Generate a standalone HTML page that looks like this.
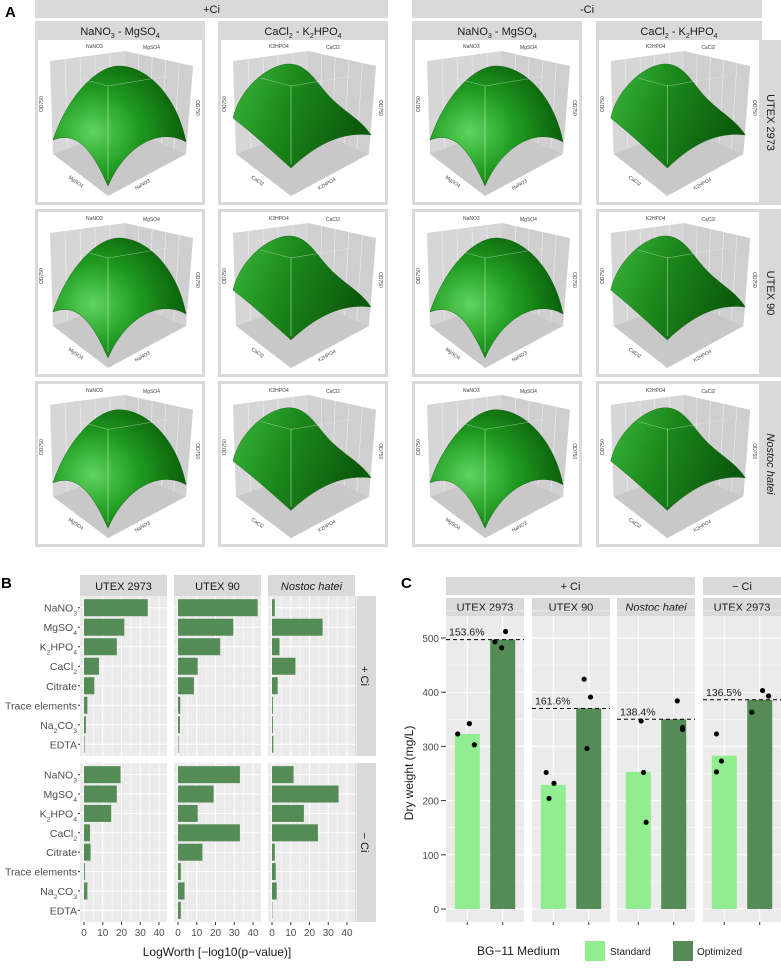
<!DOCTYPE html>
<html><head><meta charset="utf-8"><style>
body{margin:0;background:#fff;}
svg{display:block;font-family:"Liberation Sans",sans-serif;}
</style></head><body>
<svg id="fig" width="781" height="969" viewBox="0 0 781 969" xmlns="http://www.w3.org/2000/svg">
<defs>
<radialGradient id="gA" cx="0.3" cy="0.55" r="0.7"><stop offset="0" stop-color="#5fd45f"/><stop offset="0.5" stop-color="#1f9a1f"/><stop offset="1" stop-color="#0b5e0b"/></radialGradient>
<linearGradient id="gB" x1="0" y1="0" x2="1" y2="0.3"><stop offset="0" stop-color="#3cb83c"/><stop offset="0.45" stop-color="#1c8a1c"/><stop offset="1" stop-color="#0c5a0c"/></linearGradient>
</defs>
<g id="panelA"></g>
<g id="panelB"></g>
<g id="panelC"></g>
</svg>
<script>
const NS="http://www.w3.org/2000/svg";
function mk(parent,tag,attrs,text){const e=document.createElementNS(NS,tag);for(const k in attrs)e.setAttribute(k,attrs[k]);if(text!==undefined)e.textContent=text;parent.appendChild(e);return e;}

/* ---------- Panel A ---------- */
const A=document.getElementById('panelA');
let t=mk(A,'text',{x:5,y:17,'font-size':15,'font-weight':'bold'},'A');


const aCols=[[35,205],[218,388],[412,582],[596,762]];
const aRows=[[21,205],[209,377],[381,547]];
const aColTitles=[['NaNO','3',' - MgSO','4'],['CaCl','2',' - K','2','HPO','4'],['NaNO','3',' - MgSO','4'],['CaCl','2',' - K','2','HPO','4']];
const aRowTitles=['UTEX 2973','UTEX 90','Nostoc hatei'];
[['+Ci',35,388],['-Ci',412,762]].forEach(([lab,x0,x1])=>{
  const r=mk(A,'rect',{x:x0,y:0,width:x1-x0,height:18,fill:'#d9d9d9'});
  
  
  mk(A,'text',{x:(x0+x1)/2,y:13,'font-size':11,'text-anchor':'middle',fill:'#1a1a1a'},lab);
});
aRows.forEach((row,ri)=>{
  const s=mk(A,'rect',{x:762,y:row[0]+(ri==0?19:0),width:19,height:row[1]-row[0]-(ri==0?19:0),fill:'#d9d9d9'});
  
  
  const cy=(row[0]+(ri==0?19:0)+row[1])/2;
  mk(A,'text',{x:771,y:cy,'font-size':11,'text-anchor':'middle','font-style':ri==2?'italic':'normal',transform:`rotate(90 771 ${cy})`,dy:4,fill:'#1a1a1a'},aRowTitles[ri]);
  aCols.forEach((col,ci)=>{
    const g=mk(A,'g',{});
    
    
    mk(g,'rect',{x:col[0],y:row[0],width:col[1]-col[0],height:row[1]-row[0],fill:'#d9d9d9'});
    let top=row[0]+3;
    if(ri==0){
      const tt=mk(g,'text',{x:(col[0]+col[1])/2,y:row[0]+14,'font-size':11,'text-anchor':'middle',fill:'#1a1a1a'});
      aColTitles[ci].forEach((p,i)=>{const ts=mk(tt,'tspan',{},p); if(/^\d$/.test(p)){ts.setAttribute('font-size',7);ts.setAttribute('dy',3);} else if(i>0 && /^\d$/.test(aColTitles[ci][i-1])) ts.setAttribute('dy',-3);});
      top=row[0]+19;
    }
    const wx=col[0]+3, wy=top, ww=col[1]-col[0]-6, wh=row[1]-3-top;
    mk(g,'rect',{x:wx,y:wy,width:ww,height:wh,fill:'#fff'});
    const sx=ww/164, sy=wh/162;
    const P=(x,y)=>`${(wx+x*sx).toFixed(1)},${(wy+y*sy).toFixed(1)}`;
    mk(g,'polygon',{points:[P(12,21),P(87,11),P(87,87),P(15,114)].join(' '),fill:'#d6d6d6'});
    mk(g,'polygon',{points:[P(87,11),P(155,26),P(148,114),P(87,87)].join(' '),fill:'#cfcfcf'});
    mk(g,'polygon',{points:[P(15,114),P(87,87),P(148,114),P(70,156)].join(' '),fill:'#c8c8c8'});
    for(let k=1;k<5;k++){
      mk(g,'line',{x1:wx+(12+k*15)*sx,y1:wy+(21-k*2)*sy,x2:wx+(15+k*14.4)*sx,y2:wy+(114-k*5.4)*sy,stroke:'#eee','stroke-width':0.6});
      mk(g,'line',{x1:wx+(87+k*13.6)*sx,y1:wy+(11+k*3)*sy,x2:wx+(87+k*12.2)*sx,y2:wy+(87+k*5.4)*sy,stroke:'#eee','stroke-width':0.6});
    }
    let d;
    if(ci%2==0) d=`M${P(15,100)} C${P(30,55)} ${P(60,25)} ${P(82,26)} C${P(112,27)} ${P(140,60)} ${P(148,102)} C${P(120,86)} ${P(86,108)} ${P(70,146)} C${P(55,112)} ${P(40,90)} ${P(15,100)} Z`;
    else d=`M${P(12,78)} C${P(20,45)} ${P(50,24)} ${P(68,24)} C${P(88,24)} ${P(96,45)} ${P(112,60)} C${P(128,75)} ${P(140,80)} ${P(150,95)} C${P(125,92)} ${P(100,100)} ${P(70,128)} C${P(50,110)} ${P(30,92)} ${P(12,78)} Z`;
    mk(g,'path',{d:d,fill:ci%2==0?'url(#gA)':'url(#gB)',stroke:'#0c5a0c','stroke-width':0.4});
    mk(g,'line',{x1:wx+70*sx,y1:wy+(ci%2==0?46:45)*sy,x2:wx+70*sx,y2:wy+(ci%2==0?140:124)*sy,stroke:'#e8f5e8','stroke-width':0.6,opacity:0.7});
    mk(g,'polyline',{points:[P(40,38),P(70,46),P(130,36)].join(' '),fill:'none',stroke:'#e8f5e8','stroke-width':0.5,opacity:0.6});
    const lb=ci%2==0?['NaNO3','MgSO4']:['K2HPO4','CaCl2'];
    mk(g,'text',{x:wx+48*sx,y:wy+8*sy,'font-size':5,fill:'#444'},lb[0]);
    mk(g,'text',{x:wx+105*sx,y:wy+9*sy,'font-size':5,fill:'#444'},lb[1]);
    mk(g,'text',{x:wx+30*sx,y:wy+138*sy,'font-size':5,fill:'#444',transform:`rotate(35 ${wx+30*sx} ${wy+138*sy})`},lb[1]);
    mk(g,'text',{x:wx+98*sx,y:wy+150*sy,'font-size':5,fill:'#444',transform:`rotate(-30 ${wx+98*sx} ${wy+150*sy})`},lb[0]);
    mk(g,'text',{x:wx+5*sx,y:wy+72*sy,'font-size':5,fill:'#444',transform:`rotate(-90 ${wx+5*sx} ${wy+72*sy})`},'OD750');
    mk(g,'text',{x:wx+158*sx,y:wy+60*sy,'font-size':5,fill:'#444',transform:`rotate(90 ${wx+158*sx} ${wy+60*sy})`},'OD750');
  });
});

/* ---------- Panel B ---------- */
const bFactors=['NaNO3','MgSO4','K2HPO4','CaCl2','Citrate','Trace elements','Na2CO3','EDTA'];
const bStrains=['UTEX 2973','UTEX 90','Nostoc hatei'];
const bTicks=[0,10,20,30,40];
const bPlusUTEX2973=[34,21.5,17.5,8,5.5,1.8,1,0.3];
const bPlusUTEX90=[42.5,29.5,22.5,10.5,8.5,1.2,1,0.3];
const bPlusNostoc=[1.5,27,4,12.5,3,0.5,0.5,0.7];
const bMinusUTEX2973=[19.5,17.5,14.5,3.2,3.5,0.5,1.8,0];
const bMinusUTEX90=[33,19,10.5,33,13,1.5,3.5,1.5];
const bMinusNostoc=[11.5,35.5,17,24.5,1.5,2,2.5,0.2];
const B=document.getElementById('panelB');
const bVals=[[bPlusUTEX2973,bPlusUTEX90,bPlusNostoc],[bMinusUTEX2973,bMinusUTEX90,bMinusNostoc]];
const bPanX=[80,174,268], bPanW=87;
const bRowsY=[[596,756],[763,922]];
const bx=(v,p)=>bPanX[p]+4+ v*1.875;
function sub(parent,x,y,str,fs,anchor){
  const tt=mk(parent,'text',{x:x,y:y,'font-size':fs,'text-anchor':anchor||'start',fill:'#4d4d4d'});
  const parts=str.match(/[A-Za-z ]+|\d/g);
  parts.forEach(p=>{const ts=mk(tt,'tspan',{},p); if(/^\d$/.test(p)){ts.setAttribute('font-size',fs*0.65);ts.setAttribute('baseline-shift','sub');}});
  return tt;
}
t=mk(B,'text',{x:1,y:588,'font-size':15,'font-weight':'bold'},'B');


bStrains.forEach((s,p)=>{
  const r=mk(B,'rect',{x:bPanX[p],y:575,width:bPanW,height:21,fill:'#d9d9d9'});
  
  
  mk(B,'text',{x:bPanX[p]+bPanW/2,y:590,'font-size':11,'text-anchor':'middle','font-style':p==2?'italic':'normal',fill:'#1a1a1a'},s);
});
['+ Ci','− Ci'].forEach((lab,ri)=>{
  const [y0,y1]=bRowsY[ri];
  const r=mk(B,'rect',{x:355,y:y0,width:21,height:y1-y0,fill:'#d9d9d9'});
  
  
  const cy=(y0+y1)/2;
  mk(B,'text',{x:365,y:cy,'font-size':11,'text-anchor':'middle',dy:4,transform:`rotate(90 365 ${cy})`,fill:'#1a1a1a'},lab);
  const rowH=(y1-y0)/8.2;
  const cyOf=i=>y0+rowH*(0.6+i);
  bFactors.forEach((f,i)=>{
    sub(B,77,cyOf(i)+4,f,10.5,'end');
    mk(B,'line',{x1:78,x2:80,y1:cyOf(i),y2:cyOf(i),stroke:'#333'});
  });
  bStrains.forEach((s,p)=>{
    const g=mk(B,'g',{});
    
    
    mk(g,'rect',{x:bPanX[p],y:y0,width:bPanW,height:y1-y0,fill:'#ebebeb'});
    bTicks.forEach(v=>{mk(g,'line',{x1:bx(v+5,p),x2:bx(v+5,p),y1:y0,y2:y1,stroke:'#fff','stroke-width':0.5});mk(g,'line',{x1:bx(v,p),x2:bx(v,p),y1:y0,y2:y1,stroke:'#fff','stroke-width':1});});
    bFactors.forEach((f,i)=>mk(g,'line',{x1:bPanX[p],x2:bPanX[p]+bPanW,y1:cyOf(i),y2:cyOf(i),stroke:'#fff','stroke-width':1}));
    bVals[ri][p].forEach((v,i)=>{
      const b=mk(g,'rect',{x:bx(0,p),y:cyOf(i)-8.5,width:Math.max(0,bx(v,p)-bx(0,p)),height:17,fill:'#558b55'});
      
      
    });
  });
});
bStrains.forEach((s,p)=>{
  bTicks.forEach(v=>{
    mk(B,'line',{x1:bx(v,p),x2:bx(v,p),y1:922,y2:925,stroke:'#333'});
    mk(B,'text',{x:bx(v,p),y:936,'font-size':10,'text-anchor':'middle',fill:'#4d4d4d'},v);
  });
});
t=mk(B,'text',{x:217,y:956,'font-size':12,'text-anchor':'middle',fill:'#1a1a1a'},'LogWorth [−log10(p−value)]');



/* ---------- Panel C ---------- */
const cGroups=['UTEX 2973','UTEX 90','Nostoc hatei','UTEX 2973'];
const cStdMean=[323,229,253,283];
const cOptMean=[497,370,350,386];
const cStdPts=[[323,342,303],[252,204,232],[347,252,160],[323,253,273]];
const cOptPts=[[493,482,512],[424,391,296],[384,335,331],[363,403,393]];
const cPct=['153.6%','161.6%','138.4%','136.5%'];
const cJitStd=[[-0.27,0.06,0.2],[-0.2,-0.12,0.02],[0.08,0.15,0.22],[-0.22,-0.22,-0.08]];
const cJitOpt=[[-0.22,-0.03,0.08],[-0.13,0.05,-0.05],[0.1,0.25,0.25],[-0.22,0.08,0.25]];
const cTicks=[0,100,200,300,400,500];
const C=document.getElementById('panelC');
const cPanX=[446,532,617,703], cW=78;
const cy=v=>909-v*(271/500);
const cx=(k,p)=>cPanX[p]+(k-0.4)*(cW/2.2);
t=mk(C,'text',{x:401,y:588,'font-size':15,'font-weight':'bold'},'C');


[['+ Ci',446,695],['− Ci',703,781]].forEach(([lab,x0,x1])=>{
  const r=mk(C,'rect',{x:x0,y:577,width:x1-x0,height:18,fill:'#d9d9d9'});
  
  
  mk(C,'text',{x:(x0+x1)/2,y:590,'font-size':11,'text-anchor':'middle',fill:'#1a1a1a'},lab);
});
cTicks.forEach(v=>{
  mk(C,'text',{x:439,y:cy(v)+4,'font-size':10,'text-anchor':'end',fill:'#4d4d4d'},v);
  mk(C,'line',{x1:441,x2:446,y1:cy(v),y2:cy(v),stroke:'#333'});
});
t=mk(C,'text',{x:413,y:773,'font-size':12,'text-anchor':'middle',transform:'rotate(-90 413 773)',fill:'#1a1a1a'},'Dry weight (mg/L)');


cGroups.forEach((s,p)=>{
  const g=mk(C,'g',{});
  
  
  mk(g,'rect',{x:cPanX[p],y:598,width:cW,height:18,fill:'#d9d9d9'});
  mk(g,'text',{x:cPanX[p]+cW/2,y:611,'font-size':11,'text-anchor':'middle','font-style':p==2?'italic':'normal',fill:'#1a1a1a'},s);
  mk(g,'rect',{x:cPanX[p],y:616,width:cW,height:306,fill:'#ebebeb'});
  cTicks.forEach(v=>{mk(g,'line',{x1:cPanX[p],x2:cPanX[p]+cW,y1:cy(v+50),y2:cy(v+50),stroke:'#fff','stroke-width':0.5});mk(g,'line',{x1:cPanX[p],x2:cPanX[p]+cW,y1:cy(v),y2:cy(v),stroke:'#fff','stroke-width':1});});
  [1,2].forEach(k=>{mk(g,'line',{x1:cx(k,p),x2:cx(k,p),y1:616,y2:922,stroke:'#fff'});mk(g,'line',{x1:cx(k,p),x2:cx(k,p),y1:922,y2:925,stroke:'#333'});});
  let b=mk(g,'rect',{x:cx(1,p)-12.5,y:cy(cStdMean[p]),width:25,height:cy(0)-cy(cStdMean[p]),fill:'#90ee90'});
  
  
  b=mk(g,'rect',{x:cx(2,p)-12.5,y:cy(cOptMean[p]),width:25,height:cy(0)-cy(cOptMean[p]),fill:'#558b55'});
  
  
  const dl=mk(g,'line',{x1:cPanX[p],x2:cPanX[p]+cW,y1:cy(cOptMean[p]),y2:cy(cOptMean[p]),stroke:'#000','stroke-dasharray':'4,3','stroke-width':1});
  
  
  mk(g,'text',{x:cPanX[p]+3,y:cy(cOptMean[p])-4,'font-size':10.5,fill:'#1a1a1a'},cPct[p]);
  cStdPts[p].forEach((v,i)=>{const c=mk(g,'circle',{cx:cx(1+cJitStd[p][i],p),cy:cy(v),r:2.6,fill:'#000'});});
  cOptPts[p].forEach((v,i)=>{const c=mk(g,'circle',{cx:cx(2+cJitOpt[p][i],p),cy:cy(v),r:2.6,fill:'#000'});});
});
const lg=mk(C,'g',{});


mk(lg,'text',{x:477,y:955,'font-size':12,fill:'#1a1a1a'},'BG−11 Medium');
let le=mk(lg,'rect',{x:585,y:941,width:20,height:20,fill:'#90ee90'});


mk(lg,'text',{x:610,y:955,'font-size':10,fill:'#1a1a1a'},'Standard');
le=mk(lg,'rect',{x:673,y:941,width:20,height:20,fill:'#558b55'});


mk(lg,'text',{x:697,y:955,'font-size':10,fill:'#1a1a1a'},'Optimized');
</script>
</body></html>
